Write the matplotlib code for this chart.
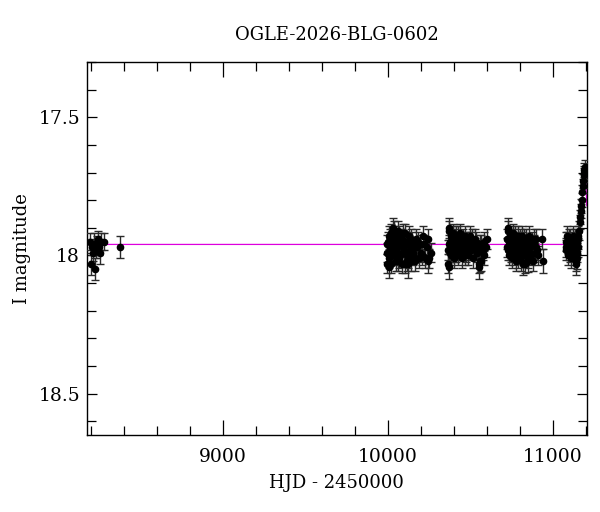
import numpy as np
import matplotlib
matplotlib.use("Agg")
import matplotlib.pyplot as plt
from matplotlib.ticker import MultipleLocator

# ---- photometry (HJD - 2450000, I mag, error) ----
t_early = [8193, 8198, 8204, 8210, 8216, 8222, 8228, 8235, 8241, 8248, 8256, 8262, 8277, 8374]
m_early = [17.95, 18.03, 17.97, 17.99, 17.96, 18.05, 17.98, 17.96, 17.94, 17.97, 17.99, 17.95, 17.95, 17.97]
e_early = [0.03, 0.04, 0.03, 0.03, 0.04, 0.04, 0.03, 0.03, 0.03, 0.03, 0.04, 0.03, 0.03, 0.04]

t_s1 = [9992, 9997, 10001, 10005, 10008, 10012, 10016, 10020, 10024, 10027, 10031, 10035,
        10040, 10044, 10048, 10052, 10057, 10061, 10066, 10070, 10075, 10079, 10084, 10089,
        10093, 10098, 10103, 10108, 10113, 10118, 10124, 10130, 10136, 10142, 10148, 10155,
        10162, 10170, 10178, 10186, 10195, 10205, 10216, 10228, 10240, 10252, 10262,
        9995, 10003, 10010, 10018, 10026, 10033, 10042, 10050, 10059, 10068, 10077, 10086,
        10096, 10106, 10116, 10127, 10139, 10151, 10166, 10182, 10200, 10222, 10246,
        10006, 10121, 10243, 10030, 10064]
m_s1 = [17.99, 18.03, 17.95, 17.93, 18.01, 17.97, 17.92, 18.03, 17.96, 17.94, 18.00, 17.98,
        17.91, 17.99, 18.02, 17.95, 17.97, 18.02, 17.93, 17.96, 18.00, 17.94, 18.03, 17.97,
        17.92, 17.99, 18.03, 17.95, 18.02, 17.96, 18.01, 17.93, 17.98, 18.02, 17.95, 17.99,
        18.02, 17.94, 17.97, 18.01, 17.96, 18.00, 17.93, 18.01, 17.97, 18.01, 17.99,
        17.96, 17.99, 17.94, 17.98, 18.00, 17.95, 17.97, 17.93, 17.99, 18.01, 17.96, 17.94,
        17.98, 17.92, 18.00, 17.96, 17.94, 18.00, 17.97, 17.95, 17.99, 17.96, 17.94,
        18.04, 18.03, 18.02, 17.90, 17.91]
e_s1 = [0.035] * 70 + [0.04, 0.05, 0.045, 0.035, 0.035]

t_s2 = [10362, 10367, 10371, 10375, 10380, 10384, 10389, 10393, 10398, 10402, 10407, 10411,
        10416, 10421, 10426, 10431, 10436, 10441, 10446, 10451, 10457, 10462, 10468, 10474,
        10480, 10486, 10492, 10498, 10505, 10512, 10519, 10526, 10534, 10542, 10550, 10558,
        10566, 10575, 10584, 10594, 10604,
        10369, 10377, 10386, 10396, 10405, 10414, 10424, 10434, 10444, 10454, 10465, 10477,
        10489, 10502, 10516, 10530, 10546, 10562, 10580,
        10370, 10373, 10552, 10560]
m_s2 = [17.98, 18.03, 17.91, 17.95, 18.00, 17.93, 17.97, 17.92, 18.01, 17.96, 17.94, 17.99,
        17.93, 17.97, 18.00, 17.95, 17.92, 17.98, 17.96, 18.01, 17.94, 17.97, 17.93, 17.99,
        17.95, 18.00, 17.96, 17.93, 17.98, 17.94, 18.01, 17.97, 17.95, 17.99, 18.03, 17.96,
        18.02, 17.98, 18.00, 17.97, 17.94,
        17.96, 17.99, 17.94, 17.97, 17.99, 17.95, 17.93, 17.98, 17.95, 17.97, 18.00, 17.95,
        17.98, 17.95, 17.97, 17.94, 17.98, 17.96, 17.95,
        18.04, 17.90, 18.04, 18.02]
e_s2 = [0.035] * 60 + [0.045, 0.035, 0.045, 0.04]

t_s3 = [10722, 10726, 10730, 10734, 10738, 10742, 10746, 10750, 10754, 10758, 10762, 10766,
        10770, 10774, 10778, 10782, 10786, 10790, 10794, 10798, 10802, 10806, 10810, 10814,
        10818, 10822, 10826, 10830, 10835, 10840, 10845, 10850, 10856, 10862, 10868, 10874,
        10880, 10886, 10892, 10898, 10904, 10910, 10934, 10938,
        10724, 10732, 10740, 10748, 10756, 10764, 10772, 10780, 10788, 10796, 10804, 10812,
        10820, 10828, 10838, 10848, 10859, 10871, 10883, 10895,
        10728, 10818, 10852]
m_s3 = [17.94, 17.98, 17.91, 18.00, 17.95, 17.93, 17.99, 18.01, 17.96, 17.92, 17.97, 18.00,
        17.94, 18.02, 17.95, 17.98, 17.93, 18.01, 17.96, 17.99, 17.94, 18.02, 17.97, 17.93,
        18.00, 17.95, 17.98, 18.03, 17.94, 17.99, 17.96, 18.01, 17.93, 17.97, 18.00, 17.95,
        18.02, 17.96, 17.99, 17.94, 17.98, 18.00, 17.94, 18.02,
        17.97, 17.95, 17.98, 17.94, 17.99, 17.96, 17.93, 17.98, 17.95, 17.97, 17.99, 17.95,
        17.97, 17.94, 17.98, 17.96, 17.99, 17.96, 17.94, 17.97,
        17.90, 18.03, 18.02]
e_s3 = [0.035] * 42 + [0.035, 0.045] + [0.035] * 20 + [0.035, 0.04, 0.04]

t_s4 = [11078, 11082, 11086, 11090, 11094, 11098, 11102, 11106, 11110, 11114, 11118, 11122,
        11126, 11130, 11134, 11138, 11142, 11146, 11150, 11154, 11158, 11162, 11165, 11168,
        11171, 11174, 11177, 11180, 11183, 11186, 11189, 11192, 11194,
        11080, 11088, 11096, 11104, 11112, 11120, 11128, 11136, 11144, 11148, 11152,
        11140, 11146]
m_s4 = [17.95, 17.98, 17.93, 18.00, 17.96, 17.94, 17.99, 17.97, 18.01, 17.95, 17.98, 17.93,
        18.00, 17.96, 17.99, 17.95, 18.02, 17.96, 17.94, 17.93, 17.91, 17.88, 17.86, 17.84,
        17.82, 17.80, 17.77, 17.75, 17.73, 17.71, 17.70, 17.69, 17.68,
        17.97, 17.95, 17.98, 17.94, 17.97, 17.96, 17.98, 17.94, 17.99, 17.95, 17.97,
        18.03, 18.01]
e_s4 = [0.035] * 21 + [0.025] * 12 + [0.035] * 11 + [0.04, 0.04]

# ---- model light curve ----
model_t = [8176, 11100, 11130, 11145, 11155, 11162, 11168, 11173, 11178, 11183,
           11188, 11192, 11195, 11198, 11202, 11206]
model_m = [17.96, 17.96, 17.955, 17.95, 17.94, 17.92, 17.89, 17.86, 17.82, 17.77,
           17.72, 17.69, 17.68, 17.70, 17.76, 17.82]

title = "OGLE-2026-BLG-0602"

plt.rcParams['font.family'] = 'DejaVu Serif'

t_all = np.concatenate([t_early, t_s1, t_s2, t_s3, t_s4])
m_all = np.concatenate([m_early, m_s1, m_s2, m_s3, m_s4])
e_all = np.concatenate([e_early, e_s1, e_s2, e_s3, e_s4])

fig = plt.figure(figsize=(6.0, 5.12), dpi=100)
ax = fig.add_axes([0.145, 0.150, 0.833, 0.729])

ax.plot(model_t, model_m, '-', color='#dd00dd', lw=0.9, zorder=2)
ax.errorbar(t_all, m_all, yerr=e_all, fmt='o', color='black', ms=4.5,
            ecolor='#2a2a2a', elinewidth=1.0, capsize=3.2, capthick=1.0, zorder=3)

ax.set_xlim(8176, 11206)
ax.set_ylim(18.65, 17.30)

ax.xaxis.set_major_locator(MultipleLocator(1000))
ax.xaxis.set_minor_locator(MultipleLocator(200))
ax.yaxis.set_minor_locator(MultipleLocator(0.1))
ax.set_yticks([17.5, 18.0, 18.5])
ax.set_yticklabels(['17.5', '18', '18.5'])

ax.tick_params(which='both', direction='in', top=True, right=True, width=0.9,
               labelsize=13.5, colors='black')
ax.tick_params(axis='x', which='major', length=11, pad=9)
ax.tick_params(axis='x', which='minor', length=6.5)
ax.tick_params(axis='y', which='major', length=7, pad=5)
ax.tick_params(axis='y', which='minor', length=6.5)
for sp in ax.spines.values():
    sp.set_linewidth(1.0)

ax.set_xlabel('HJD - 2450000', fontsize=13, labelpad=6)
ax.set_ylabel('I magnitude', fontsize=13, labelpad=5)
ax.set_title(title, fontsize=13, pad=16)

fig.savefig('out.png', dpi=100)
